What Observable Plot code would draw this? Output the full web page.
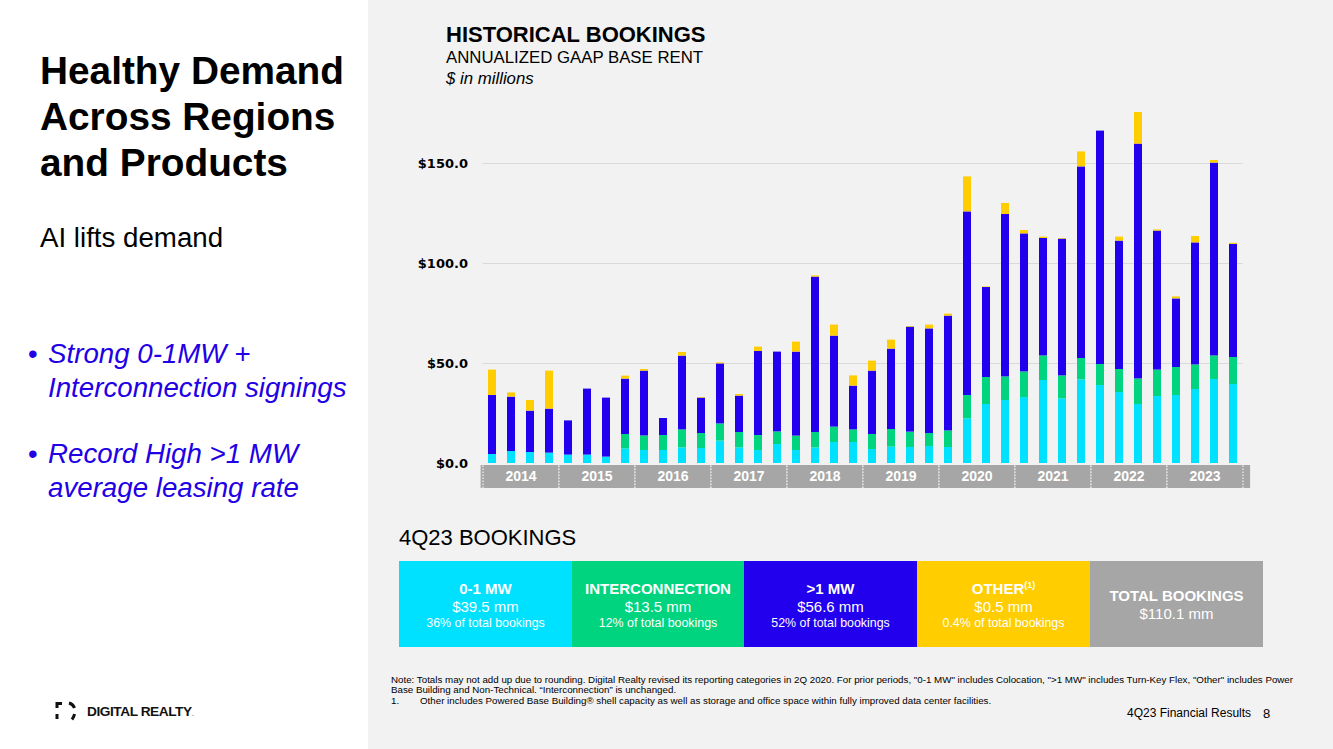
<!DOCTYPE html>
<html><head><meta charset="utf-8">
<script src="https://cdn.jsdelivr.net/npm/d3@7"></script>
<script src="https://cdn.jsdelivr.net/npm/@observablehq/plot@0.6"></script>
<style>
body{margin:0;}
#page{position:relative;width:1333px;height:749px;overflow:hidden;background:#fff;font-family:"Liberation Sans",Arial,sans-serif;color:#000;}
#right{position:absolute;left:368px;top:0;width:965px;height:749px;background:#f2f2f2;}
.t{position:absolute;white-space:nowrap;}
#chart{position:absolute;left:400px;top:93px;}
.box{position:absolute;top:561px;height:86px;width:173px;}
</style></head><body><div id="page"><div id="right"></div><div id="chart"></div></div>
<script>
// ---- data ----
const years = ["2014","2015","2016","2017","2018","2019","2020","2021","2022","2023"];
const quarters = ["Q1","Q2","Q3","Q4"];
const seriesNames = ["0-1 MW","Interconnection",">1 MW","Other"];
const seriesColors = ["#00E1FF","#00D47E","#2200EE","#FFCD00"];

const colo = [4.5,6,5.5,5.2, 4.2,4.2,3.2,7.3, 6.5,6.5,7.8,7.5, 11.2,7.8,6.5,9.5, 6.5,7.8,10.5,10.5,
  7,8.2,8,8.5, 8,22.3,29.5,31.5, 33,41.5,32.3,41.8, 39,35.5,29.5,33.5, 34,37,42,39.5];
const interconnection = [0,0,0,0, 0,0,0,7.2, 7.3,7.5,9,7.5, 8.6,7.7,7.5,6.3, 7.2,7.7,7.7,6.3,
  7.5,8.8,7.7,6.5, 8.3,11.7,13.5,11.8, 12.8,12.3,11.5,10.7, 10.5,11.5,12.8,13.2, 14,12.3,11.8,13.5];
const overOneMW = [29.5,27.2,20.7,22, 17.1,33,29.5,27.7, 32.4,8.5,36.9,17.7, 30,18.2,42,39.9, 42,77.7,45.5,21.9,
  31.7,40.2,52.5,52.3, 57.4,91.8,45,81.2, 69,58.7,68.4,95.8, 116.7,64.2,117.4,69.5, 34.3,61,96.4,56.6];
const other = [12.7,2.1,5.3,19, 0,0,0,1.5, 0.8,0,1.8,0.3, 0.5,0.8,2.2,0, 5,0.6,5.5,5.1,
  5,4.5,0.3,1.9, 1,17.5,0.3,5.5, 1.7,0.7,0.3,7.5, 0,2,15.8,0.6, 1,3.2,1.3,0.5];
const yTicks = [0,50,100,150];

const boxLabels = ["0-1 MW","INTERCONNECTION",">1 MW","OTHER","TOTAL BOOKINGS"];
const boxValues = [39.5,13.5,56.6,0.5,110.1];
const boxShares = ["36%","12%","52%","0.4%",null];
const boxColors = ["#00E1FF","#00D47E","#2200EE","#FFCD00","#A6A6A6"];

// ---- tables ----
const periods = years.flatMap(y => quarters.map(q => ({year: y, quarter: q})));
const seriesValues = [colo, interconnection, overOneMW, other];
const table = [];
periods.forEach((p, i) => {
  seriesNames.forEach((s, k) => {
    table.push({i, x1: i, x2: i + 1, year: p.year, quarter: p.quarter, series: s, value: seriesValues[k][i]});
  });
});
const yearRows = years.map(y => {
  const idx = periods.map((p, i) => p.year === y ? i : -1).filter(i => i >= 0);
  return {year: y, start: idx[0], end: idx[idx.length - 1] + 1};
});
const bounds = [0, ...yearRows.map(d => d.end)];

const chart = Plot.plot({
  width: 860, height: 396,
  marginLeft: 82.5, marginRight: 17.5, marginTop: 10, marginBottom: 0,
  style: {fontFamily: "DejaVu Sans, Verdana, sans-serif", fontSize: "13px", fontWeight: "bold", background: "transparent", color: "#000"},
  x: {domain: [0, 40], axis: null},
  y: {domain: [-13, 180], ticks: yTicks, tickFormat: d => "$" + d.toFixed(1), tickSize: 0, tickPadding: 15, label: null},
  color: {domain: seriesNames, range: seriesColors},
  marks: [
    Plot.ruleY(yTicks.filter(d => d > 0), {stroke: "#d9d9d9", strokeWidth: 1}),
    Plot.rect(yearRows, {x1: d => d.start === 0 ? -0.1 : d.start, x2: d => d.end === 40 ? 40.4 : d.end, y1: -12.5, y2: -1, fill: "#A6A6A6"}),
    Plot.ruleX(bounds, {y1: -12.5, y2: -1, stroke: "#ffffff", strokeWidth: 1, strokeDasharray: "1.5,1.5"}),
    Plot.text(yearRows, {x: d => (d.start + d.end) / 2, y: -6.75, text: "year", fill: "#ffffff", fontSize: 14, fontWeight: "bold", fontFamily: "Liberation Sans, Arial, sans-serif"}),
    Plot.rectY(table, {x1: "x1", x2: "x2", y: "value", fill: "series", insetLeft: 5.5, insetRight: 5.5})
  ]
});
document.getElementById("chart").appendChild(chart);

// ---- text helpers ----
const page = document.getElementById("page");
function txt(html, x, base, fs, o = {}) {
  const d = document.createElement("div");
  d.className = "t";
  d.innerHTML = html;
  d.style.left = x + "px";
  d.style.top = (base - 0.8465 * fs) + "px";
  d.style.fontSize = fs + "px";
  d.style.lineHeight = fs + "px";
  if (o.weight) d.style.fontWeight = o.weight;
  if (o.italic) d.style.fontStyle = "italic";
  if (o.color) d.style.color = o.color;
  if (o.ls) d.style.letterSpacing = o.ls;
  if (o.center) d.style.transform = "translateX(-50%)";
  (o.parent || page).appendChild(d);
  return d;
}

// left panel
txt("Healthy Demand", 40, 85, 38.8, {weight: "bold"});
txt("Across Regions", 40, 131, 38.8, {weight: "bold"});
txt("and Products", 40, 177, 38.8, {weight: "bold"});
txt("AI lifts demand", 40, 247, 27.7);
const blue = "#2200E6";
txt("•", 28, 363, 27.5, {color: blue});
txt("Strong 0-1MW +", 48, 363, 27.7, {italic: true, color: blue});
txt("Interconnection signings", 48, 397, 27.7, {italic: true, color: blue});
txt("•", 28, 463, 27.5, {color: blue});
txt("Record High &gt;1 MW", 48, 463, 27.7, {italic: true, color: blue});
txt("average leasing rate", 48, 497, 27.7, {italic: true, color: blue});

// logo
const logo = document.createElementNS("http://www.w3.org/2000/svg", "svg");
logo.setAttribute("width", "24"); logo.setAttribute("height", "22");
logo.style.position = "absolute"; logo.style.left = "54px"; logo.style.top = "700px";
logo.innerHTML = '<g fill="none" stroke="#111" stroke-width="3">' +
  '<path d="M3 8 V3.5 H8"/><path d="M3 14 V19"/>' +
  '<path d="M15 3 Q19 4 20.5 8"/><path d="M20.5 14 Q20 17 18 19.5"/></g>';
page.appendChild(logo);
txt("DIGITAL REALTY<span style='color:#999;font-size:8px'>.</span>", 87, 717, 13.7, {weight: "bold", ls: "-0.45px", color: "#111"});

// chart titles
txt("HISTORICAL BOOKINGS", 446, 42.7, 22, {weight: "bold"});
txt("ANNUALIZED GAAP BASE RENT", 446, 64.3, 16.8);
txt("$ in millions", 446, 85, 16.8, {italic: true});

// 4Q23 boxes
txt("4Q23 BOOKINGS", 399, 545.7, 22);
const boxLeft = [399, 572, 744, 917, 1090];
boxLabels.forEach((lab, k) => {
  const b = document.createElement("div");
  b.className = "box";
  b.style.left = boxLeft[k] + "px";
  b.style.width = ((k < 4 ? boxLeft[k + 1] : 1263) - boxLeft[k]) + "px";
  b.style.background = boxColors[k];
  page.appendChild(b);
  const cx = (k < 4 ? (boxLeft[k] + boxLeft[k + 1]) : (boxLeft[k] + 1263)) / 2;
  const labHtml = lab === "OTHER" ? "OTHER<span style='font-size:9px;position:relative;top:-6px'>(1)</span>" : lab.replace(">", "&gt;");
  if (boxShares[k] !== null) {
    txt(labHtml, cx, 594, 15, {weight: "bold", color: "#fff", center: true});
    txt("$" + boxValues[k].toFixed(1) + " mm", cx, 612, 15, {color: "#fff", center: true});
    txt(boxShares[k] + " of total bookings", cx, 627.5, 12.4, {color: "#fff", center: true});
  } else {
    txt(labHtml, cx, 601, 15, {weight: "bold", color: "#fff", center: true});
    txt("$" + boxValues[k].toFixed(1) + " mm", cx, 619, 15, {color: "#fff", center: true});
  }
});

// footnotes
txt("Note: Totals may not add up due to rounding. Digital Realty revised its reporting categories in 2Q 2020. For prior periods, \"0-1 MW\" includes Colocation, \"&gt;1 MW\" includes Turn-Key Flex, \"Other\" includes Power", 391, 683, 9.75);
txt("Base Building and Non-Technical. \u201cInterconnection\u201d is unchanged.", 391, 693.5, 9.75);
txt("1.", 391, 704, 9.75);
txt("Other includes Powered Base Building® shell capacity as well as storage and office space within fully improved data center facilities.", 420, 704, 9.75);
txt("4Q23 Financial Results", 1127, 717.5, 12);
txt("8", 1263, 718, 13);
</script></body></html>
